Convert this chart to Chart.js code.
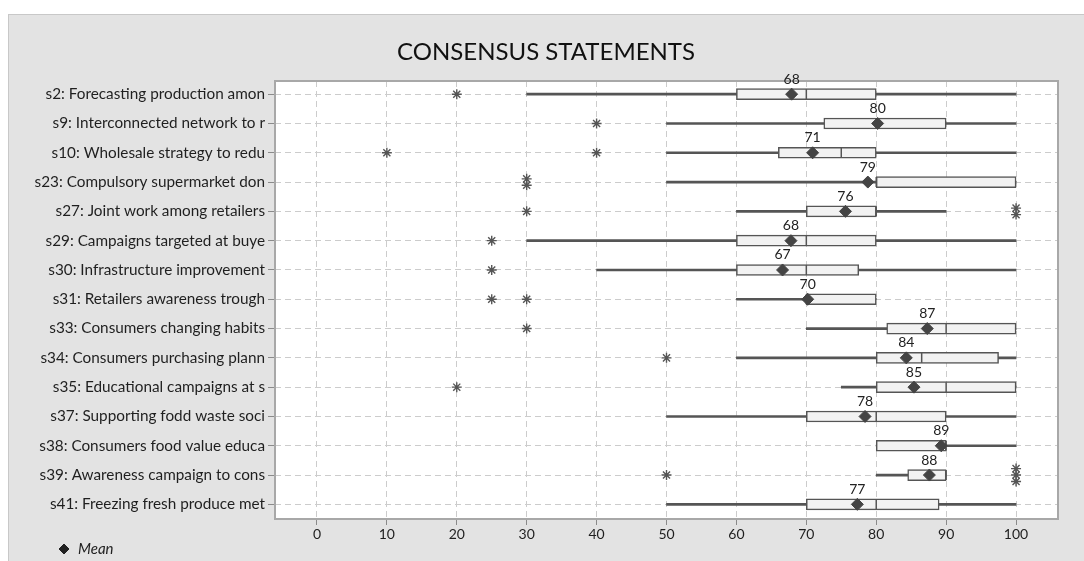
<!DOCTYPE html>
<html>
<head>
<meta charset="utf-8">
<script src="https://cdn.jsdelivr.net/npm/chart.js@4/dist/chart.umd.min.js"></script>
<style>
  html, body { margin: 0; padding: 0; background: #fff; }
  canvas { display: block; }
</style>
</head>
<body>
<canvas id="consensusChart" width="1084" height="561"></canvas>
<script>
const statements = [
  's2: Forecasting production amon',
  's9: Interconnected network to r',
  's10: Wholesale strategy to redu',
  's23: Compulsory supermarket don',
  's27: Joint work among retailers',
  's29: Campaigns targeted at buye',
  's30: Infrastructure improvement',
  's31: Retailers awareness trough',
  's33: Consumers changing habits',
  's34: Consumers purchasing plann',
  's35: Educational campaigns at s',
  's37: Supporting fodd waste soci',
  's38: Consumers food value educa',
  's39: Awareness campaign to cons',
  's41: Freezing fresh produce met'
];
const whiskerLow  = [30, 50, 50, 50, 60, 30, 40, 60, 70, 60, 75, 50, 80, 80, 50];
const q1          = [60, 72.5, 66, 80, 70, 60, 60, 70, 81.5, 80, 80, 70, 80, 84.5, 70];
const medians     = [70, 80, 75, 80, 80, 70, 70, 70, 90, 86.5, 90, 80, 90, 90, 80];
const q3          = [80, 90, 80, 100, 80, 80, 77.5, 80, 100, 97.5, 100, 90, 90, 90, 89];
const whiskerHigh = [100, 100, 100, 100, 90, 100, 100, 80, 100, 100, 100, 100, 100, 90, 100];
const means       = [67.9, 80.2, 70.9, 78.8, 75.6, 67.8, 66.6, 70.2, 87.3, 84.3, 85.4, 78.4, 89.3, 87.6, 77.3];
const outliers = [
  [20], [40], [10, 40], [30, 30], [30, 100, 100], [25], [25], [25, 30],
  [30], [50], [20], [], [], [50, 100, 100, 100], []
];
const xTicks = [0, 10, 20, 30, 40, 50, 60, 70, 80, 90, 100];

const FONT = 'Lato, "Open Sans", sans-serif';
const INK = '#555555';

// tied outliers get stacked a little around the row line
function outlierPoints() {
  const pts = [];
  outliers.forEach((vals, row) => {
    const counts = {};
    vals.forEach(v => { counts[v] = (counts[v] || 0) + 1; });
    Object.keys(counts).forEach(k => {
      const n = counts[k];
      for (let j = 0; j < n; j++) {
        pts.push({ x: Number(k), y: row + (j - (n - 1) / 2) * 0.22 });
      }
    });
  });
  return pts;
}

const panelPlugin = {
  id: 'panel',
  beforeDraw(chart) {
    const { ctx, chartArea: a } = chart;
    ctx.save();
    ctx.fillStyle = '#ffffff';
    ctx.fillRect(0, 0, chart.width, chart.height);
    ctx.fillStyle = '#e3e3e3';
    ctx.fillRect(8, 14, chart.width - 8, chart.height - 14);
    ctx.strokeStyle = '#c8c8c8';
    ctx.lineWidth = 1;
    ctx.strokeRect(8.5, 14.5, chart.width, chart.height);
    ctx.fillStyle = '#ffffff';
    ctx.fillRect(a.left, a.top, a.right - a.left, a.bottom - a.top);
    ctx.restore();
  },
  beforeDatasetsDraw(chart) {
    const { ctx, chartArea: a } = chart;
    ctx.save();
    ctx.strokeStyle = '#a8a8a8';
    ctx.lineWidth = 2;
    ctx.strokeRect(a.left, a.top, a.right - a.left, a.bottom - a.top);
    ctx.restore();
  },
  afterDraw(chart) {
    // "◆ Mean" key in the lower left corner
    const { ctx } = chart;
    ctx.save();
    ctx.fillStyle = '#222222';
    ctx.strokeStyle = '#222222';
    Chart.helpers.drawPoint(ctx, { pointStyle: 'rectRot', radius: 5, borderWidth: 1 }, 64, 549);
    ctx.font = 'italic 15px ' + FONT;
    ctx.textAlign = 'left';
    ctx.textBaseline = 'middle';
    ctx.fillText('Mean', 78, 549);
    ctx.restore();
  }
};

const meanLabelPlugin = {
  id: 'meanLabels',
  afterDatasetsDraw(chart) {
    const { ctx } = chart;
    const idx = chart.data.datasets.findIndex(d => d.label === 'Mean');
    const meta = chart.getDatasetMeta(idx);
    ctx.save();
    ctx.font = '14px ' + FONT;
    ctx.fillStyle = '#222222';
    ctx.textAlign = 'center';
    ctx.textBaseline = 'middle';
    meta.data.forEach((pt, i) => {
      ctx.fillText(String(Math.round(means[i])), pt.x, pt.y - 15);
    });
    ctx.restore();
  }
};

const rows = statements.map((_, i) => i);

const gridStyle = {
  offset: false,
  color: '#cccccc',
  tickColor: '#8a8a8a',
  tickBorderDash: [],
  tickWidth: 1
};

new Chart(document.getElementById('consensusChart'), {
  type: 'bar',
  data: {
    datasets: [
      {
        label: 'Whisker',
        indexAxis: 'y',
        data: rows.map(i => ({ y: i, x: [whiskerLow[i], whiskerHigh[i]] })),
        backgroundColor: INK,
        borderWidth: 0,
        barThickness: 2,
        grouped: false,
        order: 4
      },
      {
        label: 'Box',
        indexAxis: 'y',
        data: rows.map(i => ({ y: i, x: [q1[i], q3[i]] })),
        backgroundColor: '#f2f2f2',
        borderColor: INK,
        borderWidth: 1.5,
        borderSkipped: false,
        barThickness: 11,
        grouped: false,
        order: 3
      },
      {
        label: 'Median',
        type: 'scatter',
        data: rows.map(i => ({ x: medians[i], y: i })),
        pointStyle: 'line',
        rotation: 90,
        pointRadius: 5,
        borderColor: INK,
        borderWidth: 1.5,
        order: 2
      },
      {
        label: 'Mean',
        type: 'scatter',
        data: rows.map(i => ({ x: means[i], y: i })),
        pointStyle: 'rectRot',
        pointRadius: 6,
        backgroundColor: '#444444',
        borderColor: '#444444',
        borderWidth: 1,
        order: 1
      },
      {
        label: 'Outlier',
        type: 'scatter',
        data: outlierPoints(),
        pointStyle: 'star',
        pointRadius: 5,
        borderColor: INK,
        borderWidth: 1.4,
        order: 0
      }
    ]
  },
  options: {
    responsive: false,
    animation: false,
    layout: { padding: { left: 34, right: 26, top: 0, bottom: 18 } },
    plugins: {
      title: {
        display: true,
        text: 'CONSENSUS STATEMENTS',
        color: '#111111',
        font: { family: FONT, size: 24, weight: 'normal' },
        padding: { top: 38, bottom: 14.2 }
      },
      legend: { display: false },
      tooltip: { enabled: false }
    },
    scales: {
      x: {
        type: 'linear',
        offset: false,
        min: -6,
        max: 106,
        afterBuildTicks: scale => { scale.ticks = xTicks.map(v => ({ value: v })); },
        afterFit: scale => { scale.height = 24; },
        border: { display: false, dash: [6, 4] },
        grid: Object.assign({ tickLength: 6 }, gridStyle),
        ticks: {
          padding: 1,
          color: '#1f1f1f',
          font: { family: FONT, size: 14 }
        }
      },
      y: {
        type: 'linear',
        reverse: true,
        offset: false,
        min: -0.45,
        max: 14.5,
        afterBuildTicks: scale => { scale.ticks = rows.map(v => ({ value: v })); },
        afterFit: scale => { scale.width = 241; },
        border: { display: false, dash: [6, 4] },
        grid: Object.assign({ tickLength: 7 }, gridStyle),
        ticks: {
          padding: 3,
          color: '#1f1f1f',
          font: { family: FONT, size: 15.3 },
          callback: v => statements[v]
        }
      }
    }
  },
  plugins: [panelPlugin, meanLabelPlugin]
});
</script>
</body>
</html>
